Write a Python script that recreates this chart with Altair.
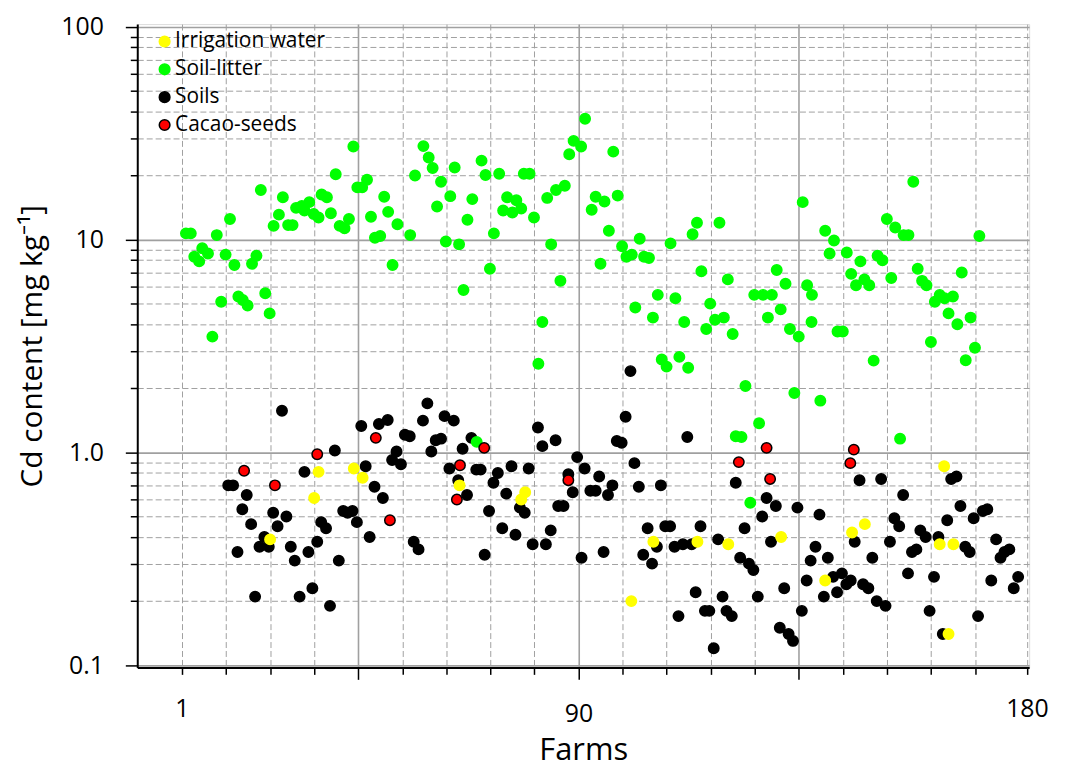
import altair as alt
import pandas as pd

# ---------------- data ----------------
groups = ["Irrigation water", "Soil-litter", "Soils", "Cacao-seeds"]
fill_colors = ["#ffff00", "#00ff00", "#000000", "#ff0000"]
stroke_colors = ["#ffff00", "#00ff00", "#000000", "#000000"]

litter_farm = [39.9, 18.9, 55.8, 57.0, 57.9, 62.9, 69.0, 69.9, 73.0, 78.6, 79.9, 88.9, 89.9, 91.6, 92.5,
               35.9, 40.8, 41.9, 43.0, 53.9, 59.8, 61.9, 58.9, 66.9, 65.8, 74.8, 76.9, 73.9, 76.0, 78.0,
               80.9, 83.9, 85.9, 87.9, 71.8, 60.9, 63.9, 70.9, 64.9, 84.8, 86.9, 82.8, 46.9, 47.8, 49.9,
               43.9, 44.8, 46.0, 52.8, 48.8, 32.7, 33.9, 34.8, 38.9, 36.8, 37.9, 23.9, 26.9, 28.2, 29.9,
               28.8, 30.9, 32.0, 23.0, 21.8, 25.1, 26.1, 11.9, 1.9, 3.0, 8.9, 5.6, 6.9, 3.8, 4.9, 10.9,
               12.9, 16.9, 17.9, 9.9, 13.8, 14.8, 15.9, 19.9, 20.9, 7.9,
               98.9, 94.9, 96.9, 94.0, 99.9, 97.9, 96.0, 100.9, 104.9, 101.9, 103.1, 105.9, 107.0, 111.9,
               116.9, 117.9, 123.0, 118.9, 124.9, 109.0, 113.0, 103.9, 107.9, 115.0, 120.9, 120.0, 122.0,
               124.0, 126.0, 130.9, 132.9, 134.9, 136.0, 138.0, 134.0, 136.9, 139.0, 141.0, 141.9, 142.9,
               144.0, 143.9, 147.0, 149.0, 148.0, 151.9, 155.0, 152.9, 154.0, 155.9, 157.0, 149.8, 151.0,
               158.9, 160.0, 161.0, 162.9, 164.8, 165.9, 167.0, 162.0, 168.0, 169.0, 170.0, 173.0, 171.9,
               174.1, 176.0, 175.0, 177.0, 178.0, 180.0, 182.0, 171.0, 181.0,
               81.9, 67.9, 109.9, 111.0, 113.9, 115.9, 128.9, 140.0, 145.9, 132.0, 126.7, 128.0, 130.0,
               158.0, 164.0, 178.9]
litter_cd = [27.4, 17.1, 27.5, 24.3, 21.7, 21.8, 23.5, 20.1, 20.4, 20.4, 20.4, 25.2, 29.1, 27.4, 37.0,
             20.3, 17.6, 17.6, 19.1, 20.0, 18.7, 16.0, 14.3, 15.5, 12.4, 15.8, 15.3, 13.7, 13.4, 14.0,
             12.7, 15.7, 17.1, 17.9, 10.7, 9.8, 9.5, 7.3, 5.8, 9.5, 6.4, 4.1, 15.9, 13.5, 11.8,
             12.8, 10.2, 10.4, 10.5, 7.6, 16.3, 15.8, 13.3, 12.5, 11.6, 11.3, 15.8, 14.1, 14.4, 15.0,
             13.7, 13.2, 12.7, 13.1, 11.6, 11.7, 11.7, 12.5, 10.7, 10.7, 10.5, 9.1, 8.6, 8.3, 7.9, 8.5,
             7.6, 7.7, 8.4, 5.1, 5.4, 5.2, 4.9, 5.6, 4.5, 3.5,
             25.9, 15.9, 15.1, 13.8, 16.1, 11.0, 7.7, 9.3, 10.1, 8.3, 8.5, 8.3, 8.2, 9.6,
             10.6, 12.0, 12.0, 7.1, 6.5, 5.5, 5.3, 4.8, 4.3, 4.1, 5.0, 3.8, 4.2,
             4.3, 3.6, 5.5, 5.5, 5.5, 7.2, 6.2, 4.3, 4.7, 3.8, 3.5, 15.0, 6.1,
             5.5, 4.1, 11.0, 9.9, 8.6, 8.7, 7.9, 6.9, 6.1, 6.5, 6.1, 3.7, 3.7,
             8.4, 8.0, 12.5, 11.4, 10.5, 10.5, 18.7, 6.6, 7.3, 6.4, 6.1, 5.5, 5.1,
             5.3, 5.4, 4.5, 4.0, 7.0, 4.3, 10.4, 3.3, 3.1,
             2.61, 1.12, 2.73, 2.53, 2.81, 2.50, 2.05, 1.90, 1.75, 1.37, 1.19, 1.18, 0.58,
             2.70, 1.16, 2.71]

soil_farm = [23.7, 41.7, 45.7, 47.7, 56.7, 55.7, 60.6, 62.7, 51.6, 52.7, 58.6, 59.8, 49.7, 48.7, 50.7,
             57.6, 64.7, 66.7, 35.7, 42.7, 28.8, 61.7, 67.8, 68.8, 72.7, 75.8, 79.7, 71.7, 63.7, 65.7,
             74.6, 81.8, 82.8, 85.8, 90.7, 88.7, 92.4, 89.7, 70.7, 77.7, 78.8, 86.4, 87.6, 84.7, 73.7,
             76.7, 80.6, 83.6, 69.7, 91.7, 11.5, 12.6, 15.7, 14.7, 16.7, 21.7, 22.7, 24.7, 19.7, 18.6,
             20.7, 13.6, 25.7, 26.6, 29.7, 31.7, 32.6, 33.7, 37.6, 38.6, 39.7, 40.7, 44.7, 46.6, 43.6,
             53.6, 54.7, 36.6, 17.6, 27.7, 30.6, 34.6,
             102.8, 101.7, 99.7, 100.8, 115.7, 103.7, 95.7, 98.7, 93.7, 94.9, 97.7, 104.7, 109.7, 126.7,
             133.7, 135.8, 140.7, 132.7, 145.7, 128.7, 134.7, 106.7, 110.7, 111.8, 118.7, 108.8, 105.7,
             107.7, 96.7, 112.8, 114.7, 116.7, 122.7, 127.7, 129.7, 130.7, 117.6, 113.7, 119.7, 120.7,
             123.7, 124.6, 125.8, 121.7, 131.7, 137.7, 136.7, 138.7, 139.7, 141.7, 142.8, 144.8, 143.7,
             147.6, 146.7, 148.8, 150.8, 151.8, 152.8, 149.7, 155.6, 156.8, 158.7, 160.7, 153.7, 157.7,
             154.8, 159.7, 164.7, 162.7, 163.8, 161.7, 165.8, 168.6, 169.8, 166.7, 167.7, 172.7, 171.7,
             170.7, 173.7, 174.7, 175.6, 176.8, 177.7, 178.8, 179.8, 180.7, 182.8, 183.8, 181.7, 185.8,
             186.8, 187.7, 188.8, 184.7, 189.8, 190.8]
soil_cd = [1.57, 1.33, 1.36, 1.42, 1.70, 1.41, 1.48, 1.41, 1.21, 1.19, 1.14, 1.16, 1.01, 0.92, 0.88,
           1.01, 1.04, 1.17, 1.02, 0.86, 0.81, 0.84, 0.83, 0.83, 0.80, 0.86, 0.84, 0.72, 0.74, 0.63,
           0.64, 1.31, 1.07, 1.14, 0.95, 0.79, 0.84, 0.65, 0.53, 0.55, 0.52, 0.56, 0.56, 0.43, 0.44,
           0.41, 0.37, 0.37, 0.33, 0.32, 0.70, 0.70, 0.63, 0.54, 0.46, 0.52, 0.45, 0.50, 0.40, 0.36,
           0.36, 0.34, 0.36, 0.31, 0.34, 0.38, 0.47, 0.44, 0.53, 0.52, 0.53, 0.47, 0.69, 0.61, 0.40,
           0.38, 0.35, 0.31, 0.21, 0.21, 0.23, 0.19,
           2.41, 1.47, 1.13, 1.11, 1.18, 0.89, 0.77, 0.70, 0.66, 0.66, 0.63, 0.69, 0.70, 0.72,
           0.61, 0.56, 0.55, 0.50, 0.51, 0.44, 0.38, 0.44, 0.45, 0.45, 0.45, 0.36, 0.33,
           0.30, 0.34, 0.36, 0.37, 0.37, 0.39, 0.32, 0.30, 0.28, 0.22, 0.17, 0.18, 0.18,
           0.21, 0.18, 0.17, 0.12, 0.21, 0.23, 0.15, 0.14, 0.13, 0.18, 0.25, 0.36, 0.31,
           0.32, 0.21, 0.26, 0.27, 0.24, 0.25, 0.22, 0.24, 0.23, 0.20, 0.19, 0.38, 0.32,
           0.74, 0.75, 0.63, 0.49, 0.45, 0.38, 0.27, 0.43, 0.40, 0.34, 0.35, 0.40, 0.26,
           0.18, 0.14, 0.48, 0.75, 0.77, 0.56, 0.36, 0.34, 0.49, 0.53, 0.54, 0.17, 0.39,
           0.32, 0.34, 0.35, 0.25, 0.23, 0.26]

water_farm = [32.0, 31.0, 40.0, 42.0, 21.0, 64.0, 78.9, 78.0, 103.0, 108.0, 118.0, 125.0, 137.0,
              147.0, 153.1, 156.0, 174.0, 173.0, 176.1, 175.0]
water_cd = [0.81, 0.61, 0.84, 0.76, 0.39, 0.70, 0.65, 0.60, 0.20, 0.38, 0.38, 0.37, 0.40,
            0.25, 0.42, 0.46, 0.86, 0.37, 0.37, 0.14]

seed_farm = [15.1, 22.1, 31.7, 45.0, 48.2, 64.1, 69.6, 63.4, 88.7, 127.4, 133.7, 134.5, 152.7, 153.5]
seed_cd = [0.82, 0.70, 0.98, 1.17, 0.48, 0.87, 1.05, 0.60, 0.74, 0.90, 1.05, 0.75, 0.89, 1.03]

x_ticks = [1, 11, 21, 31, 41, 51, 61, 71, 81, 91, 101, 111, 121, 131, 141, 151, 161, 171, 181, 192.8]
y_ticks = [0.1, 0.2, 0.3, 0.4, 0.5, 0.6, 0.7, 0.8, 0.9,
           1, 2, 3, 4, 5, 6, 7, 8, 9,
           10, 20, 30, 40, 50, 60, 70, 80, 90, 100]

# ---------------- table (drawing order: soils, litter, water, seeds) ----------------
frames = [
    pd.DataFrame({"farm": soil_farm, "cd": soil_cd, "group": "Soils"}),
    pd.DataFrame({"farm": litter_farm, "cd": litter_cd, "group": "Soil-litter"}),
    pd.DataFrame({"farm": water_farm, "cd": water_cd, "group": "Irrigation water"}),
    pd.DataFrame({"farm": seed_farm, "cd": seed_cd, "group": "Cacao-seeds"}),
]
df = pd.concat(frames, ignore_index=True)

FONT = "Open Sans"
GRID = "#a0a0a0"
x_major = "datum.value == 41 || datum.value == 91 || datum.value == 141"
y_major = "datum.value == 0.1 || datum.value == 1 || datum.value == 10 || datum.value == 100"

x_axis = alt.Axis(
    values=x_ticks,
    labelExpr="datum.value == 1 ? '1' : (datum.value == 91 ? '90' : (datum.value == 192.8 ? '180' : ''))",
    title="Farms",
    titleFont=FONT, titleFontSize=31, titleFontWeight="normal", titleColor="black", titlePadding=10,
    labelFont=FONT, labelFontSize=25, labelColor="black", labelPadding=22,
    labelFlush=False, labelOverlap=False,
    domainColor="black", domainWidth=2,
    tickColor="black", tickWidth=1.5,
    tickSize={"condition": {"test": x_major, "value": 12}, "value": 7},
    grid=True, gridColor=GRID,
    gridDash={"condition": {"test": x_major, "value": []}, "value": [6, 3]},
    gridWidth={"condition": {"test": x_major, "value": 1.6}, "value": 1},
)

y_axis = alt.Axis(
    values=y_ticks,
    labelExpr="datum.value == 0.1 ? '0.1' : (datum.value == 1 ? '1.0' : (datum.value == 10 ? '10' : (datum.value == 100 ? '100' : '')))",
    title="Cd content [mg kg\u207b\u00b9]",
    titleFont=FONT, titleFontSize=30, titleFontWeight="normal", titleColor="black", titlePadding=13,
    labelFont=FONT, labelFontSize=25, labelColor="black", labelPadding=22,
    labelOverlap=False, labelFlush=False,
    domainColor="black", domainWidth=2,
    tickColor="black", tickWidth=1.5,
    tickSize={"condition": {"test": y_major, "value": 12}, "value": 7},
    grid=True, gridColor=GRID,
    gridDash={"condition": {"test": y_major, "value": []}, "value": [6, 3]},
    gridWidth={"condition": {"test": y_major, "value": 1.6}, "value": 1},
)

legend = alt.Legend(
    title=None, orient="none", legendX=17, legendY=7,
    labelFont=FONT, labelFontSize=21, labelColor="black", labelOffset=0,
    symbolType="circle", symbolSize=115, symbolStrokeWidth=1.5,
    rowPadding=6, padding=0,
)

chart = alt.Chart(df).mark_circle(size=110, opacity=1, strokeWidth=1.5).encode(
    x=alt.X("farm:Q", scale=alt.Scale(domain=[-9.15, 193.3], nice=False, zero=False), axis=x_axis),
    y=alt.Y("cd:Q", scale=alt.Scale(type="log", domain=[0.0976, 103], nice=False), axis=y_axis),
    fill=alt.Fill("group:N", scale=alt.Scale(domain=groups, range=fill_colors), legend=legend),
    stroke=alt.Stroke("group:N", scale=alt.Scale(domain=groups, range=stroke_colors), legend=legend),
).properties(
    width=897, height=647,
    autosize=alt.AutoSizeParams(type="none"),
    padding={"left": 130, "top": 14, "right": 28, "bottom": 100},
).configure_view(
    stroke="black", strokeWidth=2
).configure(background="white")

chart.save("out.html", embed_options={"renderer": "svg", "actions": False})
